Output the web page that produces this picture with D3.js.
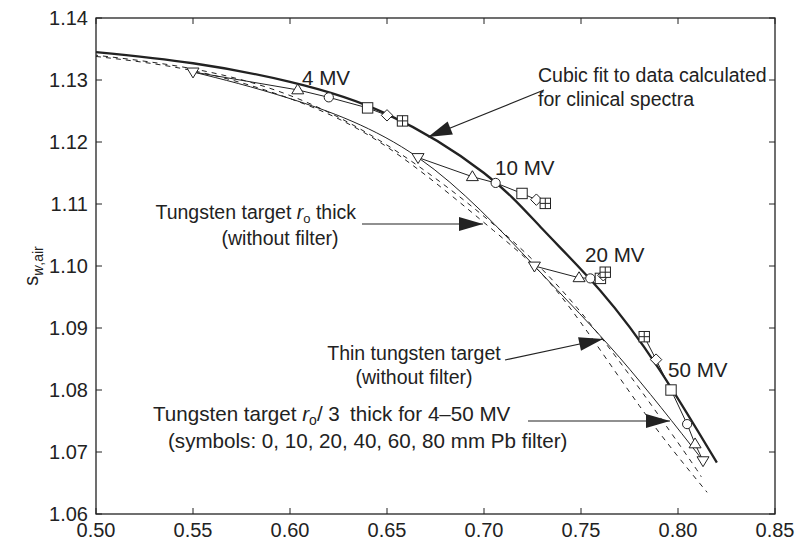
<!DOCTYPE html>
<html><head><meta charset="utf-8">
<script src="https://cdn.jsdelivr.net/npm/d3@7"></script>
<style>
body{margin:0;background:#fff;}
svg text{font-family:"Liberation Sans",Arial,sans-serif;fill:#222;}
</style></head>
<body><svg id="c" width="799" height="540"></svg>
<script>
// ---- data ----
const xTicks = [0.50,0.55,0.60,0.65,0.70,0.75,0.80,0.85];
const yTicks = [1.06,1.07,1.08,1.09,1.10,1.11,1.12,1.13,1.14];
// cubic fit to data for clinical spectra (thick)
const fitX = [0.50,0.55,0.60,0.65,0.70,0.73,0.76,0.79,0.82];
const fitY = [1.1345,1.1327,1.1297,1.1245,1.1150,1.1060,1.0960,1.0835,1.0683];
// tungsten target r0/3 thick, no filter (thin solid through the down-triangles)
const r3X = [0.550,0.600,0.666,0.726,0.770,0.8129];
const r3Y = [1.1313,1.1270,1.1175,1.1000,1.0852,1.0686];
// thin tungsten target (dashed)
const thinX = [0.50,0.55,0.60,0.65,0.70,0.75,0.80,0.812];
const thinY = [1.1340,1.1318,1.1275,1.1195,1.1080,1.0925,1.0715,1.0660];
// tungsten target r0 thick (dashed)
const r0X = [0.50,0.55,0.60,0.65,0.705,0.74,0.78,0.815];
const r0Y = [1.1338,1.1315,1.1270,1.1192,1.1057,1.0950,1.0775,1.0635];
// filter symbols: 0,10,20,40,60,80 mm Pb
const symbols = ["tdown","tup","circle","square","diamond","sqcross"];
const mv4X  = [0.550,0.604,0.620,0.640,0.650,0.658];
const mv4Y  = [1.1313,1.1284,1.1272,1.1255,1.1243,1.1234];
const mv10X = [0.666,0.694,0.706,0.7196,0.727,0.7316];
const mv10Y = [1.1175,1.1144,1.1134,1.1117,1.1107,1.1101];
const mv20X = [0.726,0.749,0.7548,0.760,0.7615,0.7625];
const mv20Y = [1.1000,1.0981,1.0980,1.0980,1.0985,1.0990];
const mv50X = [0.8129,0.8088,0.8047,0.7964,0.7887,0.7826];
const mv50Y = [1.0686,1.0713,1.0745,1.0800,1.0849,1.0886];

// ---- layout ----
const L=96,R=775,T=18,B=514;
const svg=d3.select("#c");
const x=d3.scaleLinear().domain([0.5,0.85]).range([L,R]);
const y=d3.scaleLinear().domain([1.06,1.14]).range([B,T]);
const ink="#222";

const zip=(a,b)=>a.map((v,i)=>[v,b[i]]);
const smooth=d3.line().x(d=>x(d[0])).y(d=>y(d[1])).curve(d3.curveNatural);
const straight=d3.line().x(d=>x(d[0])).y(d=>y(d[1]));

svg.append("path").attr("d",smooth(zip(r0X,r0Y))).attr("fill","none").attr("stroke",ink).attr("stroke-width",1).attr("stroke-dasharray","5,5");
svg.append("path").attr("d",smooth(zip(thinX,thinY))).attr("fill","none").attr("stroke",ink).attr("stroke-width",1).attr("stroke-dasharray","5,5").attr("stroke-dashoffset",3);
svg.append("path").attr("d",smooth(zip(r3X,r3Y))).attr("fill","none").attr("stroke",ink).attr("stroke-width",1);
svg.append("path").attr("d",smooth(zip(fitX,fitY))).attr("fill","none").attr("stroke",ink).attr("stroke-width",2.3);

const groups=[[mv4X,mv4Y],[mv10X,mv10Y],[mv20X,mv20Y],[mv50X,mv50Y]];
groups.forEach(([gx,gy])=>{
  svg.append("path").attr("d",straight(zip(gx,gy))).attr("fill","none").attr("stroke",ink).attr("stroke-width",1);
});
function marker(g,type,cx,cy){
  const s=5.2;
  const st={fill:"#fff",stroke:ink,"stroke-width":1};
  let el;
  if(type==="circle") el=g.append("circle").attr("cx",cx).attr("cy",cy).attr("r",4.6);
  else if(type==="square"||type==="sqcross") el=g.append("rect").attr("x",cx-s).attr("y",cy-s).attr("width",2*s).attr("height",2*s);
  else if(type==="tup") el=g.append("path").attr("d",`M${cx},${cy-s-0.8}L${cx+s+0.8},${cy+s*0.75}L${cx-s-0.8},${cy+s*0.75}Z`);
  else if(type==="tdown") el=g.append("path").attr("d",`M${cx},${cy+s+0.8}L${cx+s+0.8},${cy-s*0.75}L${cx-s-0.8},${cy-s*0.75}Z`);
  else if(type==="diamond") el=g.append("path").attr("d",`M${cx},${cy-s-0.5}L${cx+s+0.5},${cy}L${cx},${cy+s+0.5}L${cx-s-0.5},${cy}Z`);
  Object.entries(st).forEach(([k,v])=>el.attr(k,v));
  if(type==="sqcross") g.append("path").attr("d",`M${cx-s},${cy}H${cx+s}M${cx},${cy-s}V${cy+s}`).attr("stroke",ink).attr("stroke-width",1);
}
const mg=svg.append("g");
groups.forEach(([gx,gy])=>gx.forEach((v,i)=>marker(mg,symbols[i],x(v),y(gy[i]))));

// ---- frame & axes ----
svg.append("rect").attr("x",L).attr("y",T).attr("width",R-L).attr("height",B-T).attr("fill","none").attr("stroke",ink).attr("stroke-width",1.3);
const ax=svg.append("g");
xTicks.forEach(t=>{
  ax.append("line").attr("x1",x(t)).attr("x2",x(t)).attr("y1",B).attr("y2",B-6).attr("stroke",ink);
  ax.append("line").attr("x1",x(t)).attr("x2",x(t)).attr("y1",T).attr("y2",T+6).attr("stroke",ink);
  ax.append("text").attr("x",x(t)).attr("y",537).attr("text-anchor","middle").attr("font-size",20).text(t.toFixed(2));
});
yTicks.forEach(t=>{
  ax.append("line").attr("x1",L).attr("x2",L+6).attr("y1",y(t)).attr("y2",y(t)).attr("stroke",ink);
  ax.append("line").attr("x1",R).attr("x2",R-6).attr("y1",y(t)).attr("y2",y(t)).attr("stroke",ink);
  ax.append("text").attr("x",88).attr("y",y(t)+7).attr("text-anchor","end").attr("font-size",20).text(t.toFixed(2));
});
const yl=svg.append("text").attr("transform",`translate(38,${(T+B)/2}) rotate(-90)`).attr("text-anchor","middle").attr("font-size",20);
yl.append("tspan").text("s");
yl.append("tspan").attr("font-size",14).attr("dy",5).attr("font-style","italic").text("w");
yl.append("tspan").attr("font-size",14).text(",air");

// ---- annotations ----
const FS=19.5, FL=20.6;
function txt(xp,yp,s,anchor,fs){return svg.append("text").attr("x",xp).attr("y",yp).attr("font-size",fs||FS).attr("text-anchor",anchor||"start").text(s);}
txt(302,85,"4 MV",null,FL);
txt(495,175,"10 MV",null,FL);
txt(585,262,"20 MV",null,FL);
txt(668,377,"50 MV",null,FL);
txt(538,82,"Cubic fit to data calculated");
txt(538,106,"for clinical spectra");
const t1=svg.append("text").attr("x",356).attr("y",219).attr("font-size",FS).attr("text-anchor","end");
t1.append("tspan").text("Tungsten target ");
t1.append("tspan").attr("font-style","italic").text("r");
t1.append("tspan").attr("font-size",13).attr("dy",4).text("o");
t1.append("tspan").attr("dy",-4).text(" thick");
txt(280,245,"(without filter)","middle");
txt(414,360,"Thin tungsten target","middle");
txt(414,384,"(without filter)","middle");
const t3=svg.append("text").attr("x",153).attr("y",421).attr("font-size",FL);
t3.append("tspan").text("Tungsten target ");
t3.append("tspan").attr("font-style","italic").text("r");
t3.append("tspan").attr("font-size",14).attr("dy",4).text("o");
t3.append("tspan").attr("dy",-4).text("/ 3\u2002thick for 4\u201350 MV");
txt(168,448,"(symbols: 0, 10, 20, 40, 60, 80 mm Pb filter)",null,FL);

function arrow(x1,y1,x2,y2){
  svg.append("line").attr("x1",x1).attr("y1",y1).attr("x2",x2).attr("y2",y2).attr("stroke",ink).attr("stroke-width",1.2);
  const a=Math.atan2(y2-y1,x2-x1),len=24,w=7;
  const bx=x2-len*Math.cos(a),by=y2-len*Math.sin(a);
  const px=-Math.sin(a)*w,py=Math.cos(a)*w;
  svg.append("path").attr("d",`M${x2},${y2}L${bx+px},${by+py}L${bx-px},${by-py}Z`).attr("fill",ink);
}
arrow(544,90,428,137);
arrow(362,224,483,224);
arrow(505,360,603,339);
arrow(528,421,670,421);
</script></body></html>
